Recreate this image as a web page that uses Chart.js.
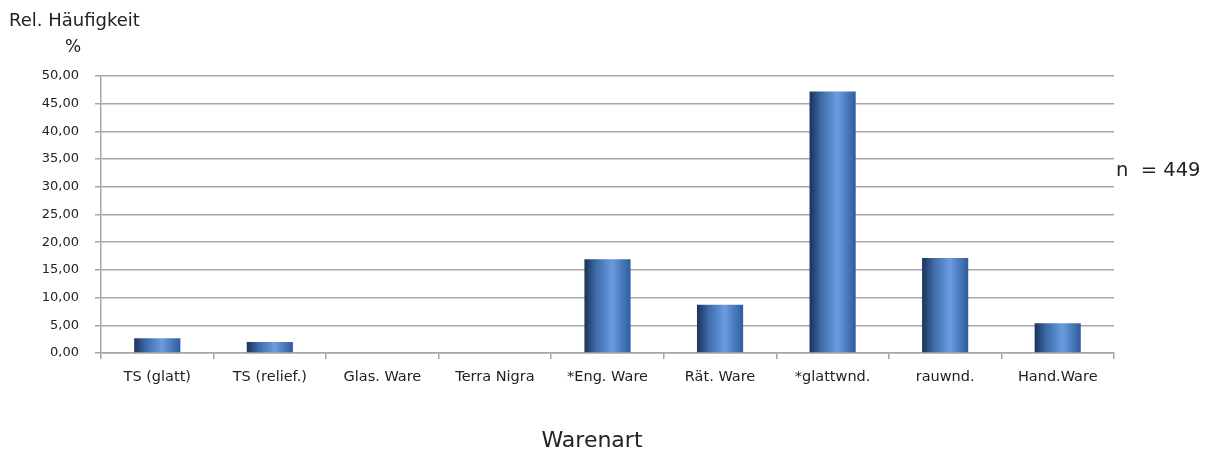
<!DOCTYPE html>
<html><head><meta charset="utf-8">
<script src="https://cdn.jsdelivr.net/npm/chart.js@4/dist/chart.umd.min.js"></script>
<style>html,body{margin:0;padding:0;background:#fff;}#wrap{width:1214px;height:455px;}</style>
</head><body><div id="wrap"><canvas id="c" width="1214" height="455"></canvas></div>
<script>
const categories = ["TS (glatt)", "TS (relief.)", "Glas. Ware", "Terra Nigra", "*Eng. Ware", "Rät. Ware", "*glattwnd.", "rauwnd.", "Hand.Ware"];
const values = [2.67, 2.00, 0, 0, 16.93, 8.69, 47.22, 17.15, 5.35];
const yTitle = "Rel. Häufigkeit";
const yUnit = "%";
const xTitle = "Warenart";
const nLabel = "n  = 449";
const FONT = "'DejaVu Sans', sans-serif";

function barGradient(ctx) {
  const chart = ctx.chart;
  const xs = chart.scales.x;
  if (!xs || !chart.chartArea) return '#4a7cc0';
  const cx = xs.getPixelForValue(ctx.dataIndex);
  const hw = (chart.chartArea.width / categories.length) * 0.41 / 2;
  const g = chart.ctx.createLinearGradient(cx - hw, 0, cx + hw, 0);
  g.addColorStop(0, '#1b3259');
  g.addColorStop(0.25, '#3d6aa8');
  g.addColorStop(0.6, '#6a9ce0');
  g.addColorStop(1, '#2f5c9e');
  return g;
}

const textPlugin = {
  id: 'texts',
  afterDraw(chart) {
    const c = chart.ctx;
    c.save();
    c.fillStyle = '#222';
    c.textBaseline = 'middle';
    c.font = '18px ' + FONT;
    c.textAlign = 'left';
    c.fillText(yTitle, 9, 21);
    c.font = '17px ' + FONT;
    c.textAlign = 'center';
    c.fillText(yUnit, 73, 48);
    c.font = '19.5px ' + FONT;
    c.textAlign = 'left';
    c.fillText(nLabel, 1116, 171);
    c.font = '22px ' + FONT;
    c.textAlign = 'center';
    c.textBaseline = 'alphabetic';
    c.fillText(xTitle, 592, 447);
    c.restore();
  }
};

new Chart(document.getElementById('c'), {
  type: 'bar',
  data: {
    labels: categories,
    datasets: [{
      data: values,
      backgroundColor: barGradient,
      borderWidth: 0,
      categoryPercentage: 1,
      barPercentage: 0.41
    }]
  },
  options: {
    responsive: false,
    animation: false,
    devicePixelRatio: 1,
    layout: { padding: { top: 76, right: 100, left: 0, bottom: 0 } },
    plugins: { legend: { display: false }, tooltip: { enabled: false } },
    scales: {
      y: {
        min: 0, max: 50,
        afterFit(s) { s.width = 101; },
        ticks: {
          stepSize: 5,
          padding: 16,
          color: '#222',
          font: { family: FONT, size: 13 },
          callback: v => v.toFixed(2).replace('.', ',')
        },
        grid: { color: '#a6a6a6', lineWidth: 1.5, tickLength: 6 },
        border: { color: '#a6a6a6', width: 1.5 }
      },
      x: {
        afterFit(s) { s.height = 102; },
        ticks: {
          color: '#222',
          padding: 10,
          maxRotation: 0,
          autoSkip: false,
          font: { family: FONT, size: 14.5 }
        },
        grid: { offset: true, drawOnChartArea: false, drawTicks: true, tickLength: 6, color: '#a6a6a6', lineWidth: 1.5 },
        border: { color: '#a6a6a6', width: 1.5 }
      }
    }
  },
  plugins: [textPlugin]
});
</script>
</body></html>
